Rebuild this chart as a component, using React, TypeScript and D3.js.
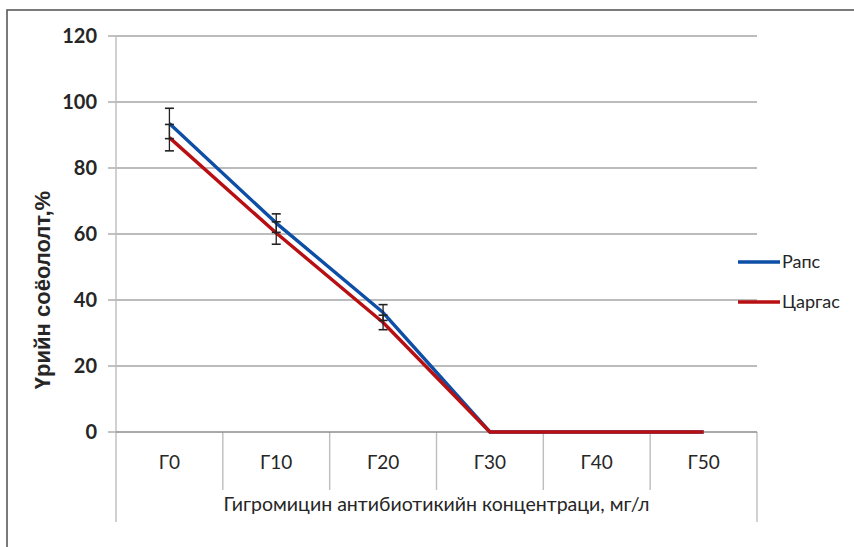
import { useEffect, useRef } from 'react';
import * as d3 from 'd3';

const categories = ['Г0', 'Г10', 'Г20', 'Г30', 'Г40', 'Г50'];
const yTicks = [0, 20, 40, 60, 80, 100, 120];

const rapsValues = [93.5, 63.3, 36.2, 0, 0, 0];
const rapsErrors = [4.6, 2.8, 2.4, 0, 0, 0];
const tsargasValues = [89.2, 60.3, 33.2, 0, 0, 0];
const tsargasErrors = [4.0, 3.4, 2.2, 0, 0, 0];

const SERIES = [
  { name: 'Рапс', values: rapsValues, errors: rapsErrors, color: '#0d4ea6' },
  { name: 'Царгас', values: tsargasValues, errors: tsargasErrors, color: '#b80f12' },
];

export default function App() {
  const svgRef = useRef<SVGSVGElement>(null);

  useEffect(() => {
    if (!svgRef.current) return;
    const W = 854, H = 547;
    const PAD = { l: 116, r: 757, t: 36, b: 432 };
    const svg = d3.select(svgRef.current);
    svg.selectAll('*').remove();
    svg.attr('width', W).attr('height', H);

    const font = 'Lato, "Open Sans", sans-serif';

    // Outer border (cut off at right/bottom like the screenshot)
    svg.append('rect').attr('x', 7).attr('y', 10).attr('width', 900).attr('height', 600)
      .attr('fill', '#fff').attr('stroke', '#5a5a5a').attr('stroke-width', 1.6);

    const x = d3.scaleBand().domain(categories).range([PAD.l, PAD.r]);
    const y = d3.scaleLinear().domain([0, 120]).range([PAD.b, PAD.t]);
    const cx = (c: string) => (x(c) ?? 0) + x.bandwidth() / 2;

    // Grid lines + y labels
    yTicks.forEach(t => {
      if (t > 0) {
        svg.append('line')
          .attr('x1', PAD.l).attr('x2', PAD.r).attr('y1', y(t)).attr('y2', y(t))
          .attr('stroke', '#a6a6a6').attr('stroke-width', 1.4);
      }
      svg.append('line')
        .attr('x1', PAD.l - 8).attr('x2', PAD.l).attr('y1', y(t)).attr('y2', y(t))
        .attr('stroke', '#a6a6a6').attr('stroke-width', 1.4);
      svg.append('text')
        .attr('x', 97).attr('y', y(t) + 7)
        .attr('text-anchor', 'end').attr('font-size', 20).attr('font-family', font)
        .attr('font-weight', 700).attr('fill', '#262626').text(t);
    });

    // Axes
    svg.append('line').attr('x1', PAD.l).attr('x2', PAD.l).attr('y1', PAD.t).attr('y2', 522)
      .attr('stroke', '#bdbdbd').attr('stroke-width', 1.4);
    svg.append('line').attr('x1', PAD.r).attr('x2', PAD.r).attr('y1', PAD.b).attr('y2', 522)
      .attr('stroke', '#bdbdbd').attr('stroke-width', 1.4);
    categories.slice(1).forEach(c => {
      svg.append('line').attr('x1', x(c) ?? 0).attr('x2', x(c) ?? 0).attr('y1', PAD.b).attr('y2', 490)
        .attr('stroke', '#bdbdbd').attr('stroke-width', 1.4);
    });
    svg.append('line').attr('x1', PAD.l).attr('x2', PAD.r).attr('y1', y(0)).attr('y2', y(0))
      .attr('stroke', '#8c8c8c').attr('stroke-width', 1.4);

    // Category labels
    categories.forEach(c => {
      svg.append('text')
        .attr('x', cx(c)).attr('y', 469).attr('text-anchor', 'middle')
        .attr('font-size', 19).attr('font-family', font).attr('fill', '#262626').text(c);
    });
    svg.append('text')
      .attr('x', (PAD.l + PAD.r) / 2).attr('y', 511).attr('text-anchor', 'middle')
      .attr('font-size', 19).attr('font-family', font).attr('fill', '#262626')
      .attr('textLength', 426).attr('lengthAdjust', 'spacingAndGlyphs')
      .text('Гигромицин антибиотикийн концентраци, мг/л');

    // Y title
    svg.append('text')
      .attr('transform', 'translate(50,290) rotate(-90)')
      .attr('text-anchor', 'middle').attr('font-size', 22).attr('font-weight', 700)
      .attr('font-family', 'Arial, "Liberation Sans", sans-serif').attr('fill', '#262626')
      .text('Үрийн соёололт,%');

    // Lines
    const line = d3.line<number>().x((_, i) => cx(categories[i])).y(v => y(v));
    SERIES.forEach(s => {
      svg.append('path').attr('d', line(s.values) ?? '')
        .attr('fill', 'none').attr('stroke', s.color).attr('stroke-width', 3.4)
        .attr('stroke-linejoin', 'round');
    });

    // Error bars
    SERIES.forEach(s => {
      s.values.forEach((v, i) => {
        const e = s.errors[i];
        if (!e) return;
        const px = cx(categories[i]);
        svg.append('line').attr('x1', px).attr('x2', px).attr('y1', y(v + e)).attr('y2', y(v - e))
          .attr('stroke', '#222').attr('stroke-width', 1.3);
        [v + e, v - e].forEach(b => {
          svg.append('line').attr('x1', px - 4.5).attr('x2', px + 4.5).attr('y1', y(b)).attr('y2', y(b))
            .attr('stroke', '#222').attr('stroke-width', 1.6);
        });
      });
    });

    // Legend
    SERIES.forEach((s, i) => {
      const ly = 262 + i * 40;
      svg.append('line').attr('x1', 738).attr('x2', 780).attr('y1', ly).attr('y2', ly)
        .attr('stroke', s.color).attr('stroke-width', 3.4);
      svg.append('text').attr('x', 782).attr('y', ly + 6)
        .attr('font-size', 18).attr('font-family', font).attr('fill', '#262626').text(s.name);
    });
  }, []);

  return (
    <div style={{ position: 'absolute', left: 0, top: 0 }}>
      <svg ref={svgRef} style={{ display: 'block' }} />
    </div>
  );
}
